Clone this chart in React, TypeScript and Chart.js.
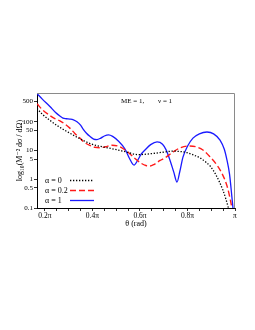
import { useEffect, useRef } from 'react';
import { Chart, registerables } from 'chart.js';

Chart.register(...registerables);

// theta in units of pi, cross-section values
const thetaA0 = [0.1667, 0.19, 0.221, 0.25, 0.276, 0.305, 0.335, 0.368, 0.39, 0.411, 0.45, 0.495, 0.54, 0.592, 0.65, 0.705, 0.739, 0.77, 0.798, 0.825, 0.853, 0.88, 0.895, 0.92, 0.949, 0.962, 0.971, 0.98, 1.0];
const sigmaA0 = [290, 180, 112, 75, 55, 40, 29, 21, 17.5, 15.3, 13, 11, 9, 7.2, 7.8, 8.9, 9.5, 9.2, 8.4, 7.0, 5.5, 3.8, 2.9, 1.4, 0.42, 0.2, 0.11, 0.06, 0.02];

const thetaA02 = [0.1667, 0.19, 0.221, 0.24, 0.263, 0.285, 0.305, 0.325, 0.347, 0.365, 0.389, 0.41, 0.432, 0.455, 0.482, 0.51, 0.53, 0.549, 0.575, 0.605, 0.625, 0.642, 0.66, 0.685, 0.705, 0.739, 0.77, 0.802, 0.835, 0.865, 0.895, 0.924, 0.945, 0.966, 0.98, 0.988, 0.995, 1.0];
const sigmaA02 = [420, 260, 165, 130, 108, 82, 60, 40, 27, 19.5, 15, 13, 12.5, 13.5, 15.2, 14, 11.5, 8.9, 5.6, 3.6, 3.0, 2.9, 3.3, 4.5, 5.5, 8.9, 12.5, 14.3, 13.5, 10.4, 6, 3.1, 1.6, 0.6, 0.2, 0.09, 0.04, 0.02];

const thetaA1 = [0.1667, 0.19, 0.221, 0.245, 0.263, 0.276, 0.29, 0.305, 0.32, 0.335, 0.35, 0.36, 0.375, 0.389, 0.405, 0.419, 0.435, 0.45, 0.468, 0.485, 0.51, 0.537, 0.555, 0.575, 0.59, 0.605, 0.621, 0.645, 0.672, 0.695, 0.71, 0.726, 0.742, 0.756, 0.768, 0.781, 0.8, 0.823, 0.85, 0.882, 0.91, 0.937, 0.955, 0.966, 0.977, 0.987, 0.995, 1.0];
const sigmaA1 = [950, 600, 340, 210, 158, 133, 127, 124, 117, 100, 76, 57, 40, 31, 25, 24, 27, 32, 35, 31, 21, 11.3, 5.5, 3.1, 4.5, 7.5, 10.4, 16, 19.8, 16.5, 10.5, 4.7, 1.8, 0.8, 1.9, 5.9, 14, 27, 38, 44, 38, 23, 11, 4.7, 1.5, 0.24, 0.05, 0.02];

const seriesLabels = ['α = 0', 'α = 0.2', 'α = 1'];
const xTickValues = [0.2, 0.25, 0.3, 0.35, 0.4, 0.45, 0.5, 0.55, 0.6, 0.65, 0.7, 0.75, 0.8, 0.85, 0.9, 0.95, 1.0];
const xMajorValues = [0.2, 0.4, 0.6, 0.8, 1.0];
const xMajorLabels = ['0.2π', '0.4π', '0.6π', '0.8π', 'π'];
const yTickValues = [0.1, 0.5, 1, 5, 10, 50, 100, 500];
const titleParts = ['ME = 1,', 'ν = 1'];
const xTitle = 'θ (rad)';
const yTitle = 'log₁₀(M⁻² dσ / dΩ)';

const FONT = 'Liberation Serif, DejaVu Serif, serif';

const toPoints = (xs: number[], ys: number[]) => xs.map((x, i) => ({ x, y: ys[i] }));

const framePlugin = {
  id: 'frame',
  afterDraw(chart: any) {
    const { ctx, chartArea } = chart;
    const { left, top, right, bottom } = chartArea;
    ctx.save();
    ctx.strokeStyle = '#8a8a8a';
    ctx.lineWidth = 1;
    ctx.beginPath();
    ctx.moveTo(left, top + 0.5);
    ctx.lineTo(right - 0.5, top + 0.5);
    ctx.lineTo(right - 0.5, bottom);
    ctx.stroke();
    // in-plot title
    ctx.fillStyle = '#000';
    ctx.font = `7px ${FONT}`;
    ctx.textBaseline = 'middle';
    ctx.textAlign = 'left';
    ctx.fillText(titleParts[0], left + 84, top + 8);
    ctx.fillText(titleParts[1], left + 121, top + 8);
    // legend
    ctx.font = `8px ${FONT}`;
    const ds = chart.data.datasets;
    ds.forEach((d: any, i: number) => {
      const y = bottom - 27.5 + i * 10;
      ctx.fillStyle = '#000';
      ctx.fillText(d.label, left + 8, y);
      ctx.save();
      ctx.strokeStyle = d.borderColor;
      ctx.lineWidth = d.borderWidth;
      ctx.setLineDash(d.borderDash || []);
      ctx.beginPath();
      ctx.moveTo(left + 33, y);
      ctx.lineTo(left + 57, y);
      ctx.stroke();
      ctx.restore();
    });
    ctx.restore();
  },
};

export default function App() {
  const ref = useRef<HTMLCanvasElement | null>(null);
  useEffect(() => {
    if (!ref.current) return;
    const xFont = { family: FONT, size: 7.5 };
    const yFont = { family: FONT, size: 7 };
    const titleFont = { family: FONT, size: 8 };
    const common = { pointRadius: 0, cubicInterpolationMode: 'monotone' as const, fill: false };
    const chart = new Chart(ref.current, {
      type: 'line',
      data: {
        datasets: [
          {
            label: seriesLabels[0],
            data: toPoints(thetaA0, sigmaA0),
            borderColor: '#000000',
            borderWidth: 1.3,
            borderDash: [1.3, 1.7],
            ...common,
          },
          {
            label: seriesLabels[1],
            data: toPoints(thetaA02, sigmaA02),
            borderColor: '#ff1a1a',
            borderWidth: 1.4,
            borderDash: [6, 3],
            ...common,
          },
          {
            label: seriesLabels[2],
            data: toPoints(thetaA1, sigmaA1),
            borderColor: '#1a1aff',
            borderWidth: 1.3,
            ...common,
          },
        ],
      },
      options: {
        responsive: false,
        animation: false,
        layout: { padding: { left: 13, top: 93, right: 20, bottom: 101.2 } },
        plugins: { legend: { display: false }, tooltip: { enabled: false } },
        scales: {
          x: {
            type: 'linear',
            min: 1 / 6,
            max: 1,
            afterBuildTicks: (s: any) => {
              s.ticks = xTickValues.map((v) => ({ value: v }));
            },
            afterFit: (s: any) => {
              s.height = 20.8;
            },
            ticks: {
              autoSkip: false,
              maxRotation: 0,
              padding: 1,
              color: '#000',
              font: xFont,
              callback: (v: any) => {
                const idx = xMajorValues.findIndex((m) => Math.abs(m - Number(v)) < 1e-6);
                return idx >= 0 ? xMajorLabels[idx] : '';
              },
            },
            grid: { drawOnChartArea: false, drawTicks: true, tickLength: 3, color: '#000', lineWidth: 0.8 },
            border: { display: true, color: '#000', width: 1 },
            title: { display: true, text: xTitle, color: '#000', font: titleFont, padding: 0 },
          },
          y: {
            type: 'logarithmic',
            min: 0.1,
            max: 1000,
            afterBuildTicks: (s: any) => {
              s.ticks = yTickValues.map((v) => ({ value: v }));
            },
            afterFit: (s: any) => {
              s.width = 24;
            },
            ticks: {
              autoSkip: false,
              padding: 1,
              color: '#000',
              font: yFont,
              callback: (v: any) => String(v),
            },
            grid: { drawOnChartArea: false, drawTicks: true, tickLength: 3, color: '#000', lineWidth: 0.8 },
            border: { display: true, color: '#000', width: 1 },
            title: { display: true, text: yTitle, color: '#000', font: titleFont, padding: { top: 2.5, bottom: 0 } },
          },
        },
      },
      plugins: [framePlugin],
    });
    return () => chart.destroy();
  }, []);
  return (
    <div style={{ position: 'absolute', left: 0, top: 0, width: 255, height: 330, background: '#fff' }}>
      <canvas ref={ref} width={255} height={330} style={{ display: 'block' }} />
    </div>
  );
}
